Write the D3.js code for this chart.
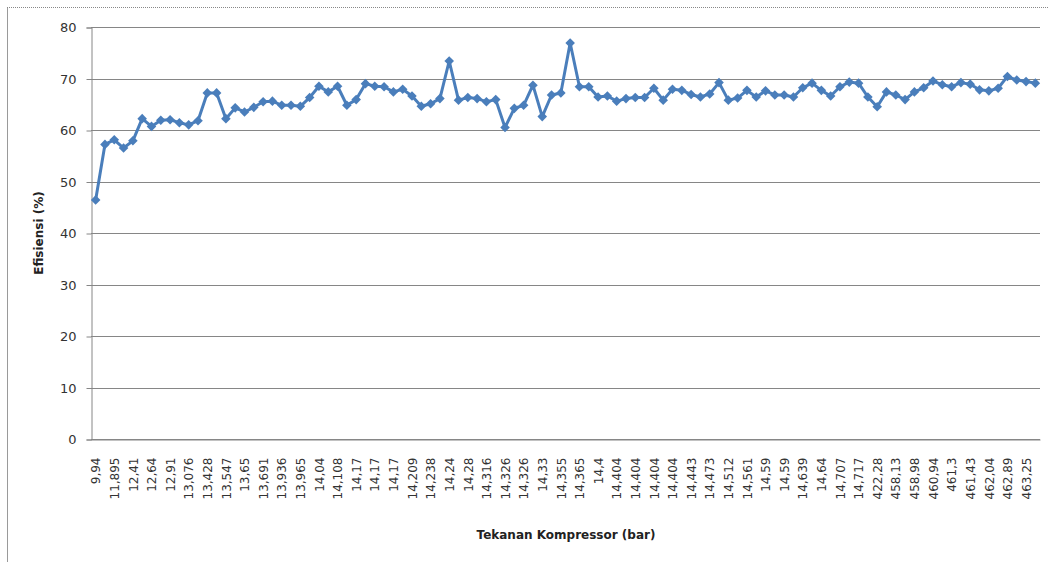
<!DOCTYPE html>
<html>
  <head>
    <meta charset="utf-8">
    <title></title>
    <style>
      body { margin: 0; background: #fff; }
      svg { display: block; }
      .tick text { fill: #333; }
      .ttl { font: bold 12px "DejaVu Sans", sans-serif; fill: #222; }
    </style>
    <script src="https://cdn.jsdelivr.net/npm/d3@7"></script>
  </head>
  <body>
    <div id="chart"></div>
    <script>
// every other category carries a label on the axis
var tickLabels = ["9,94","11,895","12,41","12,64","12,91","13,076","13,428","13,547","13,65","13,691",
  "13,936","13,965","14,04","14,108","14,17","14,17","14,17","14,209","14,238","14,24",
  "14,28","14,316","14,326","14,326","14,33","14,355","14,365","14,4","14,404","14,404",
  "14,404","14,404","14,443","14,473","14,512","14,561","14,59","14,59","14,639","14,64",
  "14,707","14,717","422,28","458,13","458,98","460,94","461,3","461,43","462,04","462,89","463,25"];

var efisiensi = [46.4,57.2,58.1,56.5,57.9,62.2,60.7,61.9,62.0,61.4,
  61.0,61.8,67.2,67.2,62.2,64.3,63.5,64.4,65.5,65.6,
  64.8,64.8,64.6,66.3,68.5,67.4,68.5,64.8,65.9,69.0,
  68.5,68.4,67.4,67.9,66.6,64.6,65.1,66.1,73.4,65.8,
  66.3,66.1,65.5,65.9,60.5,64.2,64.8,68.7,62.6,66.8,
  67.2,76.9,68.4,68.4,66.4,66.6,65.6,66.1,66.3,66.3,
  68.1,65.8,67.9,67.7,66.9,66.4,67.0,69.2,65.8,66.2,
  67.7,66.4,67.6,66.8,66.8,66.4,68.2,69.1,67.7,66.6,
  68.4,69.3,69.1,66.4,64.5,67.4,66.8,65.9,67.4,68.2,
  69.5,68.8,68.4,69.2,68.9,67.8,67.6,68.1,70.4,69.7,
  69.4,69.1];

var yTicks = [0,10,20,30,40,50,60,70,80];

var W = 1049, H = 562;
var m = { left: 91, right: 1040, top: 27, bottom: 439 };
var blue = "#4a7ebb", grid = "#868686";

var svg = d3.select("#chart").append("svg").attr("width", W).attr("height", H);

// chart frame: left edge and dotted top
svg.append("line").attr("x1", 7.5).attr("x2", 7.5).attr("y1", 8).attr("y2", H)
  .attr("stroke", "#9a9a9a");
svg.append("line").attr("x1", 7).attr("x2", W).attr("y1", 7.5).attr("y2", 7.5)
  .attr("stroke", "#888").attr("stroke-dasharray", "1,1");

var x = d3.scalePoint().domain(d3.range(efisiensi.length)).range([m.left, m.right]).padding(0.5);
var y = d3.scaleLinear().domain([0, 80]).range([m.bottom, m.top]);

svg.append("g").selectAll("line").data(yTicks).enter().append("line")
  .attr("x1", m.left).attr("x2", m.right)
  .attr("y1", function(d){ return Math.round(y(d)) + 0.5; })
  .attr("y2", function(d){ return Math.round(y(d)) + 0.5; })
  .attr("stroke", grid);

var yAxis = svg.append("g").attr("transform", "translate(" + (m.left + 0.5) + ",0.5)")
  .call(d3.axisLeft(y).tickValues(yTicks).tickSize(5).tickPadding(10));
yAxis.selectAll("path, line").attr("stroke", grid);
yAxis.selectAll("text").style("font", "13px 'DejaVu Sans', sans-serif");

var xAxis = svg.append("g").attr("transform", "translate(0," + (m.bottom + 0.5) + ")")
  .call(d3.axisBottom(x)
    .tickValues(d3.range(0, efisiensi.length, 2).slice(0, tickLabels.length))
    .tickFormat(function(i){ return tickLabels[i / 2]; })
    .tickSize(0));
xAxis.select(".domain").attr("stroke", grid);
xAxis.selectAll("text")
  .style("font", "12px 'DejaVu Sans', sans-serif")
  .attr("text-anchor", "end")
  .attr("transform", "rotate(-90)")
  .attr("x", -18).attr("y", 0).attr("dy", "0.35em");

var line = d3.line().x(function(d, i){ return x(i); }).y(function(d){ return y(d); });
svg.append("path").datum(efisiensi).attr("d", line)
  .attr("fill", "none").attr("stroke", blue).attr("stroke-width", 3).attr("stroke-linejoin", "round");

var diamond = d3.symbol().type(d3.symbolSquare).size(46);
svg.append("g").selectAll("path").data(efisiensi).enter().append("path")
  .attr("d", diamond)
  .attr("transform", function(d, i){ return "translate(" + x(i) + "," + y(d) + ") rotate(45)"; })
  .attr("fill", blue);

svg.append("text").attr("class", "ttl").attr("x", 566).attr("y", 539)
  .attr("text-anchor", "middle").text("Tekanan Kompressor (bar)");
svg.append("text").attr("class", "ttl").attr("text-anchor", "middle")
  .attr("transform", "translate(43,233) rotate(-90)").text("Efisiensi (%)");
    </script>
  </body>
</html>
